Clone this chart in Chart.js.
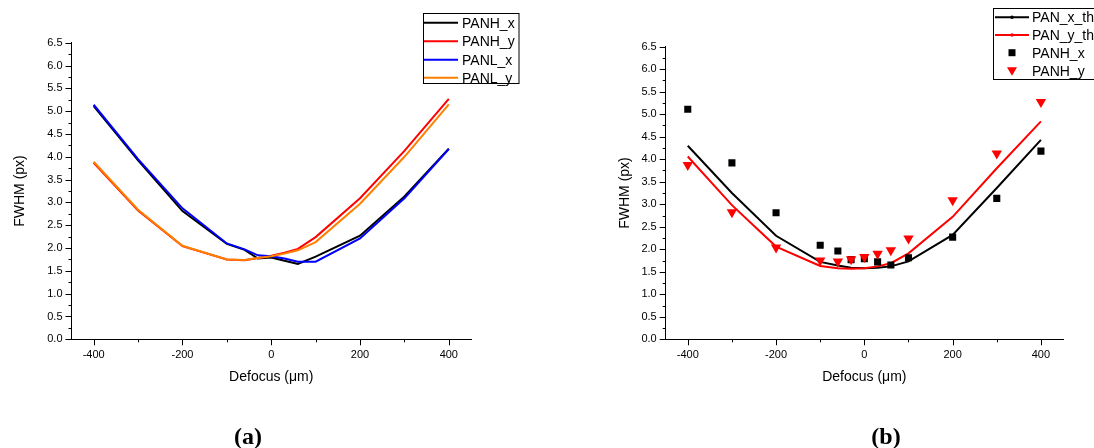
<!DOCTYPE html>
<html>
<head>
<meta charset="utf-8">
<script src="https://cdn.jsdelivr.net/npm/chart.js@4.4.1/dist/chart.umd.min.js"></script>
<style>
  body { margin: 0; background: #fff; width: 1094px; height: 448px; overflow: hidden; position: relative; }
  canvas { position: absolute; top: 0; }
  #chartA { left: 0; }
  #chartB { left: 547px; }
  .panel { position: absolute; top: 424px; width: 80px; text-align: center;
           font: bold 24px 'Liberation Serif', 'Times New Roman', serif; line-height: 24px; }
</style>
</head>
<body>
<canvas id="chartA" width="547" height="448"></canvas>
<canvas id="chartB" width="547" height="448"></canvas>
<div class="panel" style="left:208px">(a)</div>
<div class="panel" style="left:846px">(b)</div>
<script>
// Defocus positions (µm)
const defocus = [-400, -300, -200, -100, -60, -30, 0, 30, 60, 100, 200, 300, 400];

// measured FWHM (px)
const panhX = [5.11, 3.92, 2.81, 2.09, 1.96, 1.77, 1.79, 1.72, 1.65, 1.81, 2.27, 3.13, 4.18];
const panhY = [3.87, 2.82, 2.04, 1.75, 1.73, 1.78, 1.83, 1.90, 1.98, 2.24, 3.09, 4.13, 5.27];
const panlX = [5.14, 3.95, 2.87, 2.10, 1.97, 1.84, 1.82, 1.77, 1.70, 1.70, 2.21, 3.09, 4.17];
const panlY = [3.89, 2.84, 2.05, 1.75, 1.74, 1.78, 1.82, 1.88, 1.95, 2.13, 2.97, 4.00, 5.15];

// theory curves
const panXTh = [4.30, 3.25, 2.30, 1.72, 1.64, 1.59, 1.58, 1.59, 1.62, 1.73, 2.32, 3.36, 4.43];
const panYTh = [4.06, 2.98, 2.06, 1.63, 1.58, 1.57, 1.58, 1.62, 1.69, 1.91, 2.72, 3.80, 4.84];

// axis ticks
const xTicks = [-400, -200, 0, 200, 400];
const xMinor = [-300, -100, 100, 300];
const yTicks = [0, 0.5, 1, 1.5, 2, 2.5, 3, 3.5, 4, 4.5, 5, 5.5, 6, 6.5];

Chart.defaults.font.family = "'Liberation Sans', Arial, sans-serif";
Chart.defaults.color = '#000';

function toPoints(ys) {
  return defocus.map((x, i) => ({ x: x, y: ys[i] }));
}

// outward major + minor tick marks
const tickMarks = {
  id: 'tickMarks',
  afterDraw(chart) {
    const ctx = chart.ctx;
    const sx = chart.scales.x, sy = chart.scales.y;
    const a = chart.chartArea;
    ctx.save();
    ctx.strokeStyle = '#000';
    ctx.lineWidth = 1;
    ctx.beginPath();
    xTicks.forEach(v => {
      const px = Math.round(sx.getPixelForValue(v)) + 0.5;
      ctx.moveTo(px, a.bottom); ctx.lineTo(px, a.bottom + 6);
    });
    xMinor.forEach(v => {
      const px = Math.round(sx.getPixelForValue(v)) + 0.5;
      ctx.moveTo(px, a.bottom); ctx.lineTo(px, a.bottom + 3);
    });
    yTicks.forEach((v, i) => {
      let py = Math.round(sy.getPixelForValue(v)) + 0.5;
      ctx.moveTo(a.left, py); ctx.lineTo(a.left - 6, py);
      if (i < yTicks.length - 1) {
        py = Math.round(sy.getPixelForValue((v + yTicks[i + 1]) / 2)) + 0.5;
        ctx.moveTo(a.left, py); ctx.lineTo(a.left - 3, py);
      }
    });
    ctx.stroke();
    ctx.restore();
  }
};

// boxed legend like the original plot
const boxLegend = {
  id: 'boxLegend',
  afterDraw(chart, args, o) {
    const ctx = chart.ctx;
    ctx.save();
    ctx.fillStyle = '#fff';
    ctx.fillRect(o.x, o.y, o.w, o.h);
    ctx.strokeStyle = '#000';
    ctx.lineWidth = 1;
    ctx.strokeRect(Math.round(o.x) + 0.5, Math.round(o.y) + 0.5, o.w, o.h);
    ctx.font = "14px 'Liberation Sans', Arial, sans-serif";
    ctx.textBaseline = 'middle';
    chart.data.datasets.forEach((ds, i) => {
      const y = o.rows[i];
      const mid = o.lineX + o.lineW / 2;
      if (ds.showLine === false) {
        ctx.fillStyle = ds.backgroundColor;
        if (ds.pointStyle === 'rect') {
          ctx.fillRect(mid - 3.5, y - 3.5, 7, 7);
        } else {
          ctx.beginPath();
          ctx.moveTo(mid - 5, y - 3.5);
          ctx.lineTo(mid + 5, y - 3.5);
          ctx.lineTo(mid, y + 5);
          ctx.closePath();
          ctx.fill();
        }
      } else {
        ctx.strokeStyle = ds.borderColor;
        ctx.lineWidth = 2;
        ctx.beginPath();
        ctx.moveTo(o.lineX, y); ctx.lineTo(o.lineX + o.lineW, y);
        ctx.stroke();
        if (o.dots) {
          ctx.fillStyle = ds.borderColor;
          ctx.beginPath();
          ctx.arc(mid, y, 1.8, 0, Math.PI * 2);
          ctx.fill();
        }
      }
      ctx.fillStyle = '#000';
      ctx.fillText(ds.label, o.textX, y + 1);
    });
    ctx.restore();
  }
};

function scalesFor(yWidth, yTitlePad) {
  return {
    x: {
      type: 'linear', min: -450, max: 450,
      afterBuildTicks: s => { s.ticks = xTicks.map(v => ({ value: v })); },
      afterFit: s => { s.height = 46.1; },
      grid: { display: true, drawOnChartArea: false, drawTicks: false },
      border: { color: '#000', width: 1 },
      ticks: { padding: 9, color: '#000', font: { size: 11 }, maxRotation: 0, autoSkip: false,
               callback: v => String(v) },
      title: { display: true, text: 'Defocus (μm)', color: '#000', font: { size: 14 },
               padding: { top: 0, bottom: 0 } }
    },
    y: {
      type: 'linear', min: 0, max: 6.5,
      afterBuildTicks: s => { s.ticks = yTicks.map(v => ({ value: v })); },
      afterFit: s => { s.width = yWidth; },
      grid: { display: true, drawOnChartArea: false, drawTicks: false },
      border: { color: '#000', width: 1 },
      ticks: { padding: 9, color: '#000', font: { size: 11 }, autoSkip: false,
               callback: v => Number(v).toFixed(1) },
      title: { display: true, text: 'FWHM (px)', color: '#000', font: { size: 14 },
               padding: { top: yTitlePad, bottom: 0 } }
    }
  };
}

function lineSet(label, ys, color, order) {
  return { label: label, data: toPoints(ys), borderColor: color, backgroundColor: color,
           borderWidth: 2, pointRadius: 0, tension: 0, order: order };
}

// (a) measured curves
new Chart(document.getElementById('chartA'), {
  type: 'line',
  data: {
    datasets: [
      lineSet('PANH_x', panhX, '#000000', 4),
      lineSet('PANH_y', panhY, '#ff0000', 3),
      lineSet('PANL_x', panlX, '#0000ff', 2),
      lineSet('PANL_y', panlY, '#ff8000', 1)
    ]
  },
  options: {
    responsive: false,
    animation: false,
    layout: { padding: { left: 0, right: 76, top: 42.7, bottom: 62.6 } },
    scales: scalesFor(71.5, 12),
    plugins: {
      legend: { display: false },
      tooltip: { enabled: false },
      boxLegend: { x: 422.5, y: 13, w: 95.5, h: 70, rows: [22.7, 41.3, 59.8, 77.7],
                   lineX: 424, lineW: 34, textX: 462, dots: false }
    }
  },
  plugins: [tickMarks, boxLegend]
});

// (b) theory vs measured
new Chart(document.getElementById('chartB'), {
  type: 'line',
  data: {
    datasets: [
      lineSet('PAN_x_theory', panXTh, '#000000', 4),
      lineSet('PAN_y_theory', panYTh, '#ff0000', 3),
      { label: 'PANH_x', data: toPoints(panhX), showLine: false, pointStyle: 'rect',
        pointRadius: 5, borderWidth: 0, backgroundColor: '#000000', borderColor: '#000000', order: 2 },
      { label: 'PANH_y', data: toPoints(panhY), showLine: false, pointStyle: 'triangle',
        rotation: 180, pointRadius: 6, borderWidth: 0, backgroundColor: '#ff0000', borderColor: '#ff0000', order: 1 }
    ]
  },
  options: {
    responsive: false,
    animation: false,
    layout: { padding: { left: 57.6, right: 31, top: 46.7, bottom: 62.6 } },
    scales: scalesFor(61.1, 12),
    plugins: {
      legend: { display: false },
      tooltip: { enabled: false },
      boxLegend: { x: 446, y: 8, w: 120, h: 71, rows: [17.3, 35, 52.7, 70.7],
                   lineX: 448, lineW: 34, textX: 485, dots: true }
    }
  },
  plugins: [tickMarks, boxLegend]
});
</script>
</body>
</html>
